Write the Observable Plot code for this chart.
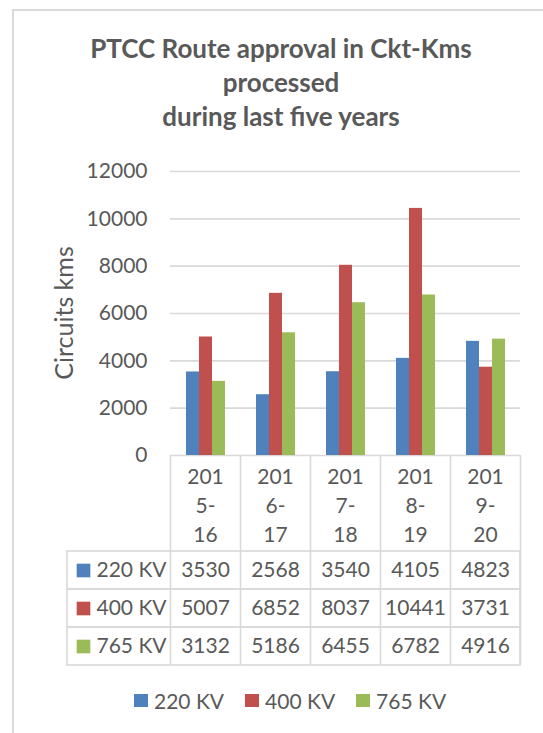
<!DOCTYPE html>
<html>
<head>
<meta charset="utf-8">
<script src="https://cdn.jsdelivr.net/npm/d3@7"></script>
<script src="https://cdn.jsdelivr.net/npm/@observablehq/plot@0.6"></script>
<style>
  html, body { margin: 0; padding: 0; background: #fff; }
  #chart { position: relative; width: 543px; height: 733px; overflow: hidden; background: #fff;
           font-family: Lato, "Open Sans", sans-serif; color: #595959; }
  #chart > * { position: absolute; }
  #border { left: 12px; top: 9px; width: 620px; height: 820px; border: 2px solid #d9d9d9; box-sizing: border-box; }
  #title { left: 0; top: 31px; width: 562px; text-align: center; font-weight: bold; font-size: 26px; line-height: 34px; }
  #ylabel { left: 63px; top: 313px; font-size: 25px; line-height: 25px; white-space: nowrap;
            transform: translate(-50%, -50%) rotate(-90deg); }
  #legend { left: 134px; top: 690px; display: flex; gap: 21px; font-size: 21px; line-height: 21px; }
  #legend .item { display: flex; align-items: center; gap: 6px; }
  #legend .sw { width: 14px; height: 13px; display: inline-block; }
</style>
</head>
<body>
<div id="chart">
  <div id="border"></div>
  <div id="title">PTCC Route approval in Ckt-Kms<br>processed<br>during last five years</div>
  <div id="ylabel">Circuits kms</div>
  <div id="legend"></div>
</div>
<script>
const years = ["2015-16", "2016-17", "2017-18", "2018-19", "2019-20"];
const series = ["220 KV", "400 KV", "765 KV"];
const kv220 = [3530, 2568, 3540, 4105, 4823];
const kv400 = [5007, 6852, 8037, 10441, 3731];
const kv765 = [3132, 5186, 6455, 6782, 4916];
const colors = ["#4F81BD", "#C0504D", "#9BBB59"];
const yTicks = [0, 2000, 4000, 6000, 8000, 10000, 12000];

const valuesBySeries = [kv220, kv400, kv765];
const data = [];
years.forEach((year, i) => {
  series.forEach((s, j) => data.push({year, series: s, value: valuesBySeries[j][i]}));
});
const wrapYear = d => d.slice(0, 3) + "\n" + d.slice(3, 5) + "\n" + d.slice(5);
const grid = "#d9d9d9";
const baseStyle = {fontFamily: "Lato, 'Open Sans', sans-serif", fontSize: "21px", color: "#595959", background: "transparent", overflow: "visible"};

const chart = Plot.plot({
  width: 543, height: 457,
  marginTop: 171, marginBottom: 2, marginLeft: 170, marginRight: 23,
  style: baseStyle,
  fx: {domain: years, padding: 0, axis: null, label: null},
  x: {domain: series, paddingInner: 0, paddingOuter: 1.125, axis: null, label: null},
  y: {domain: [0, 12000], ticks: yTicks, tickSize: 0, tickPadding: 23, tickFormat: d => String(d), label: null},
  color: {domain: series, range: colors},
  marks: [
    Plot.ruleY(yTicks, {stroke: grid, strokeWidth: 1.6}),
    Plot.barY(data, {fx: "year", x: "series", y: "value", fill: "series"})
  ]
});
chart.style.left = "0px"; chart.style.top = "0px";
document.getElementById("chart").appendChild(chart);

const table = Plot.plot({
  width: 543, height: 212,
  marginTop: 96, marginBottom: 2, marginLeft: 67, marginRight: 23,
  style: baseStyle,
  x: {type: "band", domain: years, range: [170, 520], padding: 0, axis: null, label: null},
  y: {type: "band", domain: series, padding: 0, axis: null, label: null},
  color: {domain: series, range: colors},
  marks: [
    Plot.cell(series, {y: d => d, fill: "none", stroke: grid, strokeWidth: 1.6}),
    Plot.ruleX(years, {x: d => d, dx: -35, insetTop: -96, stroke: grid, strokeWidth: 1.6}),
    Plot.ruleX(years.slice(-1), {x: d => d, dx: 35, insetTop: -96, stroke: grid, strokeWidth: 1.6}),
    Plot.text(years, {x: d => d, frameAnchor: "top", lineAnchor: "middle", dy: -48, text: wrapYear, lineHeight: 1.38}),
    Plot.text(data, {x: "year", y: "series", text: d => String(d.value)}),
    Plot.dot(series, {y: d => d, frameAnchor: "left", dx: 16, symbol: "square", r: 7.7, fill: d => d}),
    Plot.text(series, {y: d => d, frameAnchor: "left", dx: 29, textAnchor: "start", text: d => d})
  ]
});
table.style.left = "0px"; table.style.top = "455px";
document.getElementById("chart").appendChild(table);

const legend = document.getElementById("legend");
series.forEach((s, i) => {
  const item = document.createElement("span");
  item.className = "item";
  const sw = document.createElement("span");
  sw.className = "sw";
  sw.style.background = colors[i];
  const label = document.createElement("span");
  label.textContent = s;
  item.appendChild(sw); item.appendChild(label);
  legend.appendChild(item);
});
</script>
</body>
</html>
